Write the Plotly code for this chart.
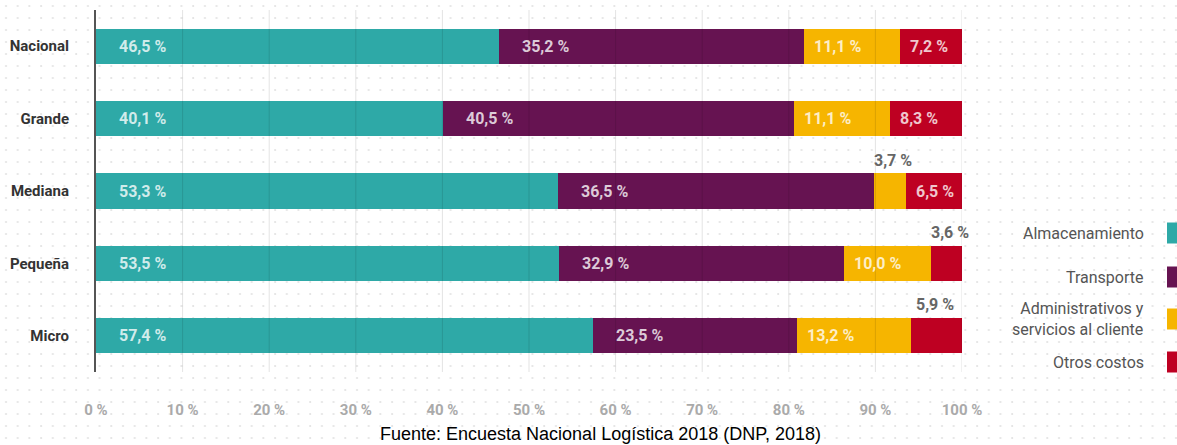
import base64
import plotly.graph_objects as go

categories = ["Nacional", "Grande", "Mediana", "Pequeña", "Micro"]
series_names = ["Almacenamiento", "Transporte",
                "Administrativos y<br>servicios al cliente", "Otros costos"]
almacenamiento = [46.5, 40.1, 53.3, 53.5, 57.4]
transporte = [35.2, 40.5, 36.5, 32.9, 23.5]
administrativos = [11.1, 11.1, 3.7, 10.0, 13.2]
otros = [7.2, 8.3, 6.5, 3.6, 5.9]
series_values = [almacenamiento, transporte, administrativos, otros]
colors = ["#2ea9a7", "#661351", "#f6b500", "#be0022"]
tick_vals = [0, 10, 20, 30, 40, 50, 60, 70, 80, 90, 100]
tick_text = [f"{v} %" for v in tick_vals]
caption = "Fuente: Encuesta Nacional Logística 2018 (DNP, 2018)"

W, H = 1177, 445
ML, MR, MT, MB = 96, 215, 10, 73
PW = W - ML - MR
PH = H - MT - MB


def px_x(px):
    return (px - ML) / PW


def px_y(py):
    return (H - MB - py) / PH


def fmt(v):
    return f"{v:.1f}".replace(".", ",") + " %"


fig = go.Figure()
for name, vals, col in zip(series_names, series_values, colors):
    fig.add_trace(go.Bar(
        y=categories, x=vals, orientation="h", name=name,
        marker=dict(color=col, line=dict(width=0)),
        hoverinfo="skip", showlegend=False,
    ))

annotations = []
for ci, cat in enumerate(categories):
    start = 0.0
    for si, vals in enumerate(series_values):
        v = vals[ci]
        wpx = v / 100 * PW
        if v < 6:
            annotations.append(dict(
                x=start, y=cat, xref="x", yref="y", text=fmt(v),
                showarrow=False, xanchor="left", yanchor="middle",
                xshift=-2 if v < 5 else 3, yshift=31,
                font=dict(family="Roboto", size=16, color="#666666", weight="bold"),
            ))
        else:
            pad = 21 if wpx > 150 else 8
            annotations.append(dict(
                x=start, y=cat, xref="x", yref="y", text=fmt(v),
                showarrow=False, xanchor="left", yanchor="middle",
                xshift=pad,
                font=dict(family="Roboto", size=16,
                          color="rgba(255,255,255,0.78)", weight="bold"),
            ))
        start += v

# legend (text at right, swatch at far right)
legend_y = [233, 277, 319, 362]
for name, col, ly in zip(series_names, colors, legend_y):
    annotations.append(dict(
        x=px_x(1146), y=px_y(ly), xref="paper", yref="paper", text=name,
        showarrow=False, xanchor="right", yanchor="middle", align="right",
        font=dict(family="Roboto", size=16, color="#555555"),
    ))

annotations.append(dict(
    x=px_x(600), y=px_y(434), xref="paper", yref="paper", text=caption,
    showarrow=False, xanchor="center", yanchor="middle",
    font=dict(family="Liberation Sans Narrow, Arial Narrow, Liberation Sans",
              size=18, color="#000000"),
))

shapes = []
for tv in tick_vals[1:]:
    shapes.append(dict(type="line", xref="x", yref="paper", x0=tv, x1=tv,
                       y0=0, y1=1, layer="above",
                       line=dict(color="rgba(0,0,0,0.11)", width=1)))
for col, ly in zip(colors, legend_y):
    shapes.append(dict(type="rect", xref="paper", yref="paper",
                       x0=px_x(1167), x1=px_x(1188),
                       y0=px_y(ly + 10.5), y1=px_y(ly - 10.5),
                       fillcolor=col, line=dict(width=0), layer="above"))

# dotted background pattern
svg = (f'<svg xmlns="http://www.w3.org/2000/svg" width="{W}" height="{H}">'
       '<defs><pattern id="p" width="11.7" height="12" patternUnits="userSpaceOnUse">'
       '<circle cx="6" cy="6" r="1.1" fill="#e2e2e2"/></pattern></defs>'
       f'<rect width="{W}" height="{H}" fill="url(#p)"/></svg>')
src = "data:image/svg+xml;base64," + base64.b64encode(svg.encode()).decode()

fig.update_layout(
    width=W, height=H,
    margin=dict(l=ML, r=MR, t=MT, b=MB, pad=0),
    barmode="stack", bargap=0.515,
    paper_bgcolor="white", plot_bgcolor="rgba(0,0,0,0)",
    annotations=annotations, shapes=shapes,
    images=[dict(source=src, xref="paper", yref="paper",
                 x=px_x(0), y=px_y(0), sizex=W / PW, sizey=H / PH,
                 xanchor="left", yanchor="top", sizing="stretch", layer="below")],
    xaxis=dict(range=[0, 100], tickvals=tick_vals, ticktext=tick_text,
               showgrid=False, zeroline=False, showline=False,
               ticks="", ticklabelstandoff=27,
               tickfont=dict(family="Roboto", size=15, color="#aaaaaa", weight="bold"),
               fixedrange=True),
    yaxis=dict(range=[len(categories) - 0.5, -0.5], autorange=False,
               showgrid=False, zeroline=False,
               showline=True, linecolor="#555555", linewidth=2,
               ticks="", ticklabelstandoff=22,
               tickfont=dict(family="Roboto", size=15, color="#333333", weight="bold"),
               fixedrange=True),
    showlegend=False,
)

fig.write_html("out.html", config={"displayModeBar": False},
               post_script="document.body.style.margin='0';"
                           "document.body.style.overflow='hidden';")
